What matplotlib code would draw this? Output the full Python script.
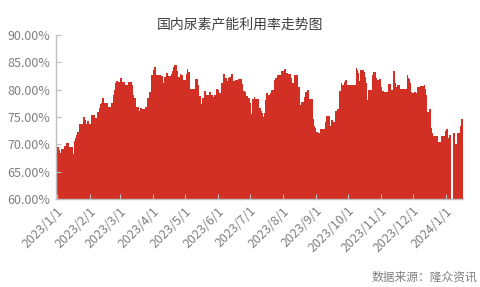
import numpy as np
import pandas as pd
import matplotlib
matplotlib.use('Agg')
import matplotlib.pyplot as plt
import matplotlib.dates as mdates
from matplotlib.ticker import FuncFormatter

plt.rcParams['font.family'] = ['Noto Sans CJK SC', 'DejaVu Sans']

# 国内尿素产能利用率 (%), daily from 2023/1/1
rate_a = [69.5, 69.5, 69.5, 69.0, 68.4, 69.1, 69.1, 69.6, 69.6, 70.2, 70.2, 70.2,
          69.5, 69.5, 69.5, 69.5, 68.2, 70.6, 71.1, 71.7, 72.2,
          73.8, 73.8, 73.8, 73.8, 74.9, 74.9, 74.4, 73.8, 74.3, 74.3, 73.7, 73.7,
          75.4, 75.4, 75.4, 74.8, 74.8, 75.9, 75.9, 76.6, 77.3, 77.6, 78.4, 78.4,
          77.5, 77.5, 77.6, 77.6, 76.9, 76.9, 77.5, 77.5,
          79.0, 79.9, 81.2, 81.6, 81.6, 81.4, 81.4, 82.1, 82.1, 81.4, 81.4, 81.4,
          80.9, 80.9, 81.4, 81.4, 81.4, 81.4, 80.9, 79.1, 78.5, 78.5,
          76.9, 76.8, 76.8, 76.0, 76.6, 76.6, 76.4, 76.4, 76.9, 76.9, 78.4, 78.4,
          79.6, 79.6, 82.7, 82.7, 83.6, 84.1, 84.1, 82.7, 82.7]
rate_b = [82.7, 82.7, 82.5, 82.5, 81.3, 82.4, 82.4, 83.0, 83.0, 82.5, 82.5, 82.5,
          82.8, 83.4, 84.2, 84.5, 84.5, 83.4, 82.4, 82.4, 82.8, 82.7, 82.7,
          81.8, 81.8, 81.8, 82.8, 83.8, 83.3, 83.3,
          80.2, 80.2, 80.2, 80.2, 81.9, 81.9, 81.9, 80.9, 78.8, 78.8, 77.3,
          78.5, 78.5, 79.8, 79.8, 79.0, 79.0, 79.5, 79.5, 79.1, 79.1, 78.6,
          79.0, 79.0, 80.2, 80.2, 79.9, 79.3, 79.3,
          81.2, 81.2, 82.8, 82.2, 82.2, 81.6, 82.2, 82.4, 82.4, 82.8, 82.8,
          81.6, 81.6, 81.8, 81.8, 81.8, 81.9, 81.9, 81.9, 81.0,
          79.8, 79.8, 79.5, 78.9, 78.9, 78.5, 78.5, 77.5, 75.5, 78.2, 78.2,
          78.6, 78.2, 78.2, 78.2, 76.6, 76.6]
rate_c = [76.1, 75.7, 74.9, 75.7, 78.1, 79.3, 79.3, 79.1, 79.1, 79.3, 79.9, 79.9,
          81.8, 82.2, 82.2,
          82.7, 82.7, 82.7, 82.7, 83.4, 83.4, 83.4, 83.8, 83.8, 83.0, 83.0,
          82.8, 82.8, 82.1, 81.2, 81.2, 82.6, 82.6, 82.6, 82.6, 80.4, 80.4,
          77.2, 77.7, 77.7, 77.7, 78.7, 79.5, 79.9, 79.9, 78.3, 78.3, 78.3, 78.3,
          74.6, 73.4, 73.0, 72.2, 72.2, 72.0, 72.0, 72.8, 72.8, 72.8, 72.8,
          74.0, 75.2, 75.2, 75.2, 75.2, 73.4, 74.4, 74.4, 74.0, 74.0,
          76.1, 76.1, 76.5, 79.8, 79.8, 81.3, 80.9, 80.9, 81.4, 81.8, 81.8,
          80.9, 80.9, 80.9, 80.9, 80.9, 80.9, 80.9, 80.9,
          83.9, 83.6, 83.0, 81.6, 83.6, 83.6, 83.6]
rate_d = [83.6, 83.3, 82.4, 81.2, 78.1, 79.9, 79.9, 79.9, 82.7, 83.2, 83.2, 83.2,
          82.2, 81.8, 81.8, 81.9, 81.9, 80.5, 79.8, 79.8,
          79.5, 79.5, 79.5, 81.0, 81.0, 81.0, 79.9, 79.9, 83.4, 83.4, 81.2, 80.4,
          80.9, 80.9, 80.9, 80.1, 80.1, 80.1, 80.2, 80.2, 80.2,
          82.7, 82.1, 81.9, 81.3, 79.5, 79.3, 79.3, 79.5, 79.5, 79.3, 80.4, 80.4,
          80.7, 80.7, 80.7, 80.7, 80.9, 80.1, 79.1,
          75.9, 75.9, 76.5, 76.5, 72.9, 72.0, 71.5, 71.5, 71.5, 71.5,
          70.4, 70.4, 70.4, 71.5, 71.5, 71.5, 71.5, 72.4, 72.8, 72.8, 71.1, 71.7, 71.7,
          np.nan, 72.0, 72.0, 70.1, 70.1, 72.0, 72.0, 72.0, 73.4, 74.6, 74.6]

rate = np.array(rate_a + rate_b + rate_c + rate_d)
dates = pd.date_range('2023-01-01', periods=len(rate), freq='D')
month_ticks = pd.date_range('2023-01-01', '2024-01-01', freq='MS')
tick_labels = [f'{d.year}/{d.month}/{d.day}' for d in month_ticks]

fig = plt.figure(figsize=(4.8, 2.87), dpi=100)
ax = fig.add_axes([0.117, 0.307, 0.848, 0.571])

# daily columns drawn as filled stairs (one polygon per run, no seams);
# a missing day leaves a gap
x = mdates.date2num(dates)
edges = np.append(x - 0.5, x[-1] + 0.5)
bad = np.flatnonzero(np.isnan(rate))
starts = np.concatenate([[0], bad + 1])
stops = np.concatenate([bad, [len(rate)]])
for a, b in zip(starts, stops):
    if b > a:
        ax.stairs(rate[a:b], edges[a:b + 1], baseline=60, fill=True,
                  color='#D23024', linewidth=0)

ax.set_ylim(60, 90)
ax.set_yticks(np.arange(60, 91, 5))
ax.yaxis.set_major_formatter(FuncFormatter(lambda v, p: f'{v:.2f}%'))
ax.set_xlim(edges[0], edges[-1])
ax.set_xticks(mdates.date2num(month_ticks))
ax.set_xticklabels(tick_labels, rotation=45, ha='right', va='top',
                   rotation_mode='anchor')

for s in ['top', 'right']:
    ax.spines[s].set_visible(False)
for s in ['left', 'bottom']:
    ax.spines[s].set_color('#BFBFBF')
    ax.spines[s].set_linewidth(1.0)
    ax.spines[s].set_zorder(3)
ax.tick_params(axis='both', direction='in', length=3.5, color='#BFBFBF',
               labelsize=9, labelcolor='#7F7F7F')
ax.tick_params(axis='x', pad=4)
ax.tick_params(axis='y', pad=4)

fig.text(0.5, 0.915, '国内尿素产能利用率走势图', ha='center', va='center',
         fontsize=10, color='#404040')
fig.text(0.995, 0.035, '数据来源：隆众资讯', ha='right', va='center',
         fontsize=8.5, color='#7F7F7F')

fig.savefig('out.png', dpi=100)
